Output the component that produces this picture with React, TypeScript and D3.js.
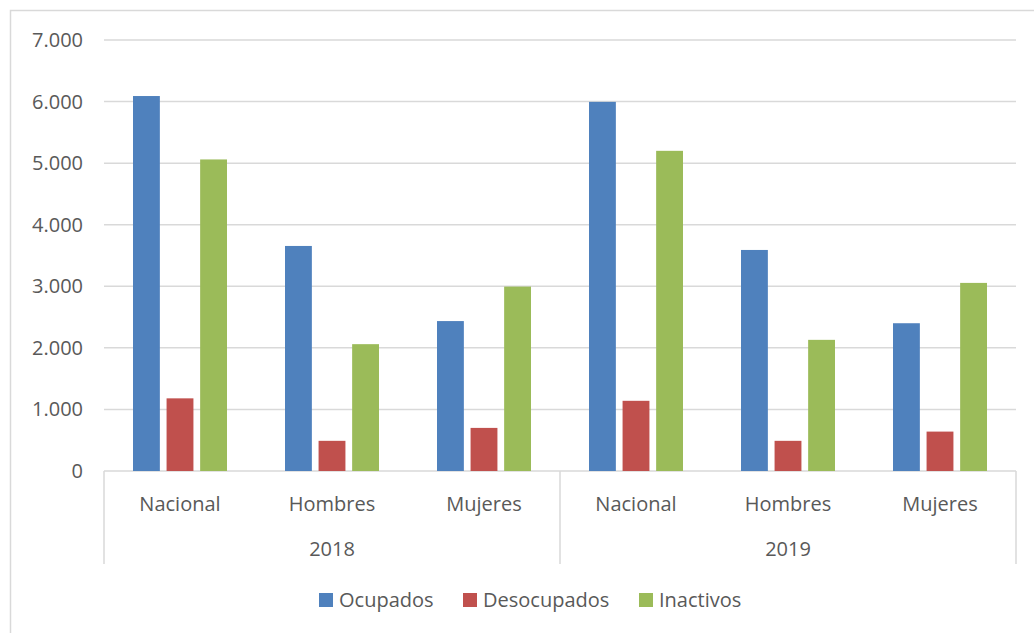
import React from 'react';
import * as d3 from 'd3';

const years = ['2018', '2019'];
const groups = ['Nacional', 'Hombres', 'Mujeres'];
const series = ['Ocupados', 'Desocupados', 'Inactivos'];
const colors = ['#4F81BD', '#C0504D', '#9BBB59'];

// values per series, in order 2018 Nacional/Hombres/Mujeres, 2019 Nacional/Hombres/Mujeres
const ocupados = [6090, 3655, 2435, 5995, 3590, 2400];
const desocupados = [1180, 490, 700, 1140, 490, 640];
const inactivos = [5060, 2060, 2995, 5200, 2130, 3055];

const yTicks = [0, 1000, 2000, 3000, 4000, 5000, 6000, 7000];

const W = 1034;
const H = 633;
const left = 104;
const right = 1016;
const top = 40;
const bottom = 471;
const font = '"Open Sans", "Noto Sans", sans-serif';
const textColor = '#595959';
const gridColor = '#d9d9d9';

const App: React.FC = () => {
    const values = [ocupados, desocupados, inactivos];
    const cats = years.flatMap(y => groups.map(g => `${y}-${g}`));

    const x = d3.scaleBand<string>().domain(cats).range([left, right]).padding(0);
    const inner = d3.scaleBand<string>().domain(series).range([-47, 47]).paddingInner(0.2).paddingOuter(0);
    const y = d3.scaleLinear().domain([0, 7000]).range([bottom, top]);

    const fmt = d3.formatLocale({ decimal: ',', thousands: '.', grouping: [3], currency: ['', '€'] }).format(',d');

    const yearWidth = x.bandwidth() * groups.length;

    // legend layout
    const legendX = [319, 463, 639];

    return (
        <svg width={W} height={H} style={{ position: 'absolute', left: 0, top: 0, background: '#fff' }}>
            <rect x={10.5} y={10.5} width={W + 20} height={H + 20} fill="#fff" stroke={gridColor} strokeWidth={1.5} />

            {/* gridlines */}
            {yTicks.map(t => (
                <line key={t} x1={left} x2={right} y1={y(t)} y2={y(t)} stroke={gridColor} strokeWidth={1.5} />
            ))}

            {/* y labels */}
            {yTicks.map(t => (
                <text key={'l' + t} x={83} y={y(t)} dy="0.35em" textAnchor="end" fontFamily={font} fontSize={20} fill={textColor}>
                    {fmt(t)}
                </text>
            ))}

            {/* bars */}
            {series.map((s, si) => (
                <g key={s} fill={colors[si]}>
                    {cats.map((c, ci) => (
                        <rect
                            key={c}
                            x={x(c)! + x.bandwidth() / 2 + inner(s)!}
                            y={y(values[si][ci])}
                            width={inner.bandwidth()}
                            height={y(0) - y(values[si][ci])}
                        />
                    ))}
                </g>
            ))}

            {/* category axis */}
            {cats.map((c, ci) => (
                <text key={'c' + c} x={x(c)! + x.bandwidth() / 2} y={504} dy="0.35em" textAnchor="middle" fontFamily={font} fontSize={20} fill={textColor}>
                    {groups[ci % groups.length]}
                </text>
            ))}
            {years.map((yr, i) => (
                <text key={yr} x={left + yearWidth * i + yearWidth / 2} y={549} dy="0.35em" textAnchor="middle" fontFamily={font} fontSize={20} fill={textColor}>
                    {yr}
                </text>
            ))}
            {[0, 1, 2].map(i => (
                <line key={'s' + i} x1={left + yearWidth * i} x2={left + yearWidth * i} y1={bottom} y2={564} stroke={gridColor} strokeWidth={1.5} />
            ))}

            {/* legend */}
            {series.map((s, si) => (
                <g key={'lg' + s} transform={`translate(${legendX[si]},600)`}>
                    <rect x={0} y={-7} width={14} height={14} fill={colors[si]} />
                    <text x={20} y={0} dy="0.35em" fontFamily={font} fontSize={20} fill={textColor}>{s}</text>
                </g>
            ))}
        </svg>
    );
};

export default App;
